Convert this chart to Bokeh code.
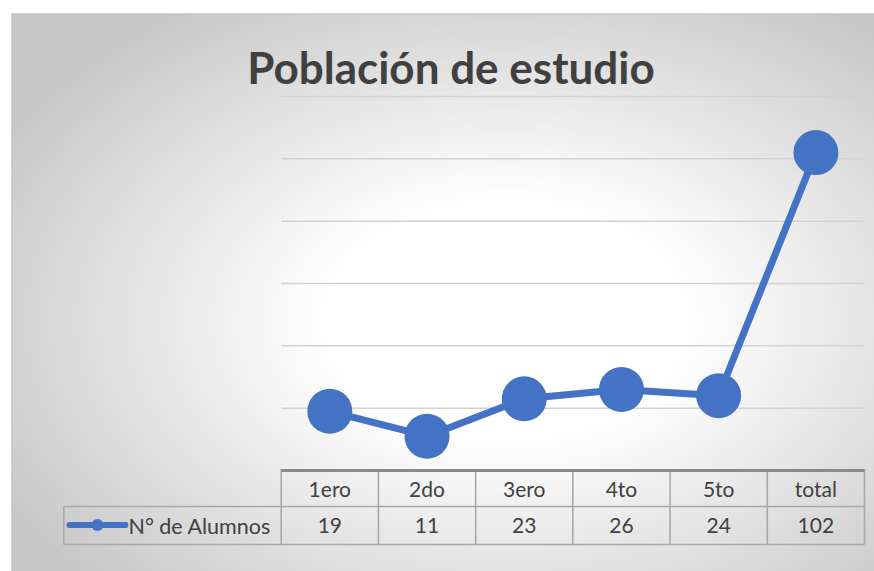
import numpy as np
from bokeh.plotting import figure
from bokeh.models import Range1d, ColumnDataSource
from bokeh.core.properties import value
from bokeh.embed import file_html
from bokeh.resources import INLINE

# ---------------- data ----------------
title_text = "Población de estudio"
series_name = "N° de Alumnos"
categories = ["1ero", "2do", "3ero", "4to", "5to", "total"]
alumnos = [19, 11, 23, 26, 24, 102]
grid_values = [20, 40, 60, 80, 100, 120]
y_min, y_max = 0, 120

# ---------------- layout (page pixels) ----------------
W, H = 874, 571               # figure size
PX0, PY0 = 0, 0
plot_left, plot_right = 280.7, 864.0
plot_top, plot_bottom = 96.0, 470.0
ncat = len(categories)
slot = (plot_right - plot_left) / ncat
ppu = (plot_bottom - plot_top) / (y_max - y_min)

x_start = (PX0 - plot_left) / slot
x_end = (PX0 + W - plot_left) / slot
y_start = y_min - (PY0 + H - plot_bottom) / ppu
y_end = y_min + (plot_bottom - PY0) / ppu

p = figure(width=W, height=H, output_backend="svg", toolbar_location=None,
           x_range=Range1d(x_start, x_end), y_range=Range1d(y_start, y_end),
           min_border=0, x_axis_type=None, y_axis_type=None)
p.grid.visible = False
p.outline_line_color = None
p.background_fill_color = "white"
p.border_fill_color = "white"
p.extra_x_ranges = {"px": Range1d(PX0, PX0 + W)}
p.extra_y_ranges = {"py": Range1d(0, H)}


def Y(img_y):
    return PY0 + H - img_y


def vy(img_y):
    return y_min - (img_y - plot_bottom) / ppu


# ---------------- background gradient ----------------
bx0, by0 = 11, 13
bw, bh = PX0 + W - bx0, PY0 + H - by0
step = 2
nx, ny = int(bw / step), int(bh / step)
xs = bx0 + (np.arange(nx) + 0.5) * bw / nx
ys = (PY0 + H) - (np.arange(ny) + 0.5) * bh / ny      # row 0 = bottom
XX, YY = np.meshgrid(xs, ys)
cx, cy = 505.0, 320.0
d = np.sqrt(((XX - cx) / 440.0) ** 2 + ((YY - cy) / 290.0) ** 2)
t = np.clip((d - 0.42) / (1.32 - 0.42), 0, 1)
g = (255 - 56 * t).astype(np.uint8)
img = np.empty((ny, nx), dtype=np.uint32)
view = img.view(dtype=np.uint8).reshape((ny, nx, 4))
view[:, :, 0] = g
view[:, :, 1] = g
view[:, :, 2] = g
view[:, :, 3] = 255
p.image_rgba(image=[img], x=bx0, y=Y(PY0 + H), dw=bw, dh=bh,
             x_range_name="px", y_range_name="py")

# chart border
p.segment(x0=[bx0 + 0.5, bx0], y0=[Y(by0), Y(by0 + 0.5)],
          x1=[bx0 + 0.5, PX0 + W], y1=[Y(PY0 + H), Y(by0 + 0.5)],
          line_color="#c4c4c4", line_width=1.2,
          x_range_name="px", y_range_name="py")

# ---------------- gridlines ----------------
p.segment(x0=[0] * len(grid_values), x1=[ncat] * len(grid_values),
          y0=grid_values, y1=grid_values, line_color="#d2d2d2", line_width=1.5)

# ---------------- title ----------------
p.text(x=[450.5], y=[Y(66)], text=[title_text], text_align="center",
       text_baseline="middle", text_font=value("Lato"),
       text_font_style="bold", text_font_size="44px", text_color="#404040",
       x_range_name="px", y_range_name="py")

# ---------------- series ----------------
xc = [i + 0.5 for i in range(ncat)]
src = ColumnDataSource(dict(x=xc, y=alumnos, cat=categories,
                            lab=[str(v) for v in alumnos]))
p.line("x", "y", source=src, line_color="#4472C4", line_width=7,
       line_join="round")
p.scatter("x", "y", source=src, size=45, fill_color="#4472C4",
          line_color="#4472C4", line_width=0)

# ---------------- data table ----------------
row_top, row_mid, row_bot = 468.5, 506.0, 544.0
tbl_left = 63.3
grid_col = "#a9a9a9"
# vertical column lines
p.segment(x0=list(range(ncat + 1)), x1=list(range(ncat + 1)),
          y0=[vy(row_top)] * (ncat + 1), y1=[vy(row_bot)] * (ncat + 1),
          line_color=grid_col, line_width=1.6)
# horizontal lines
p.segment(x0=[tbl_left, tbl_left], x1=[plot_right, plot_right],
          y0=[Y(row_mid), Y(row_bot)], y1=[Y(row_mid), Y(row_bot)],
          line_color=grid_col, line_width=1.6,
          x_range_name="px", y_range_name="py")
p.segment(x0=[tbl_left], x1=[tbl_left], y0=[Y(row_mid)], y1=[Y(row_bot)],
          line_color=grid_col, line_width=1.6,
          x_range_name="px", y_range_name="py")
# category axis line (top of table)
p.segment(x0=[0], x1=[ncat], y0=[y_min], y1=[y_min],
          line_color="#8a8a8a", line_width=3)

# header texts & values
p.text("x", y=Y(488), text="cat", source=src, text_align="center",
       text_baseline="middle", text_font=value("Lato"), text_font_size="21px",
       text_color="#404040", y_range_name="py")
p.text("x", y=Y(525), text="lab", source=src, text_align="center",
       text_baseline="middle", text_font=value("Lato"), text_font_size="21px",
       text_color="#404040", y_range_name="py")

# legend key in table
p.line(x=[69, 125], y=[Y(524.5), Y(524.5)], line_color="#4472C4",
       line_width=6, line_cap="round", x_range_name="px", y_range_name="py")
p.scatter(x=[97], y=[Y(524.5)], size=12, fill_color="#4472C4",
          line_color="#4472C4", line_width=0,
          x_range_name="px", y_range_name="py")
p.text(x=[128], y=[Y(525)], text=[series_name], text_align="left",
       text_baseline="middle", text_font=value("Lato"), text_font_size="21.5px",
       text_color="#404040", x_range_name="px", y_range_name="py")

open("out.html", "w").write(file_html(p, INLINE))
